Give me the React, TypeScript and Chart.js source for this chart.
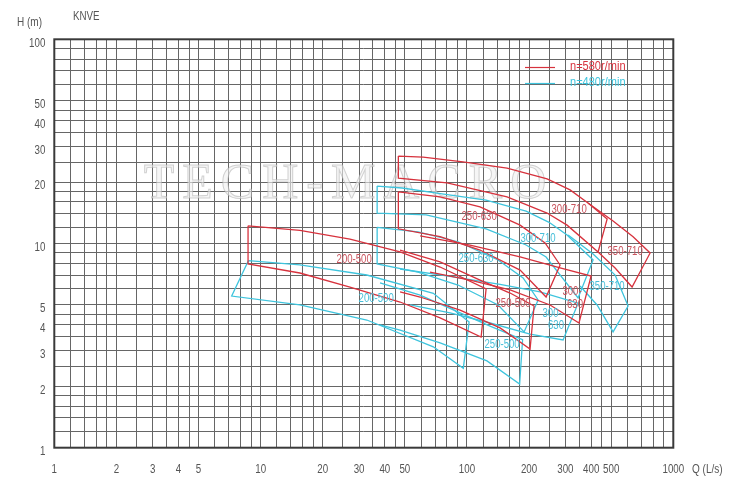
import React, { useEffect, useRef } from 'react';
import { Chart, registerables } from 'chart.js';
Chart.register(...registerables);

const xGrid = [1, 1.2, 1.4, 1.6, 1.8, 2, 2.5, 3, 3.5, 4, 4.5, 5, 6, 7, 8, 9,
  10, 12, 14, 16, 18, 20, 25, 30, 35, 40, 45, 50, 60, 70, 80, 90,
  100, 120, 140, 160, 180, 200, 250, 300, 350, 400, 450, 500, 600, 700, 800, 900, 1000];
const yGrid = [1, 1.2, 1.4, 1.6, 1.8, 2, 2.5, 3, 3.5, 4, 4.5, 5, 6, 7, 8, 9,
  10, 12, 14, 16, 18, 20, 25, 30, 35, 40, 45, 50, 60, 70, 80, 90, 100];
const xLabels = [1, 2, 3, 4, 5, 10, 20, 30, 40, 50, 100, 200, 300, 400, 500, 1000];
const yLabels = [1, 2, 3, 4, 5, 10, 20, 30, 40, 50, 100];

const RED = '#d7323d';
const CYAN = '#3ec4dd';

// outlines (Q in L/s, H in m) at n=580 r/min (red)
const r200_500_Q = [8.69, 15.5, 27.1, 47.4, 74.1, 123.8, 117.1, 74.1, 47.4, 27.1, 15.5, 8.69, 8.69];
const r200_500_H = [12.2, 11.6, 10.5, 9.09, 7.67, 5.99, 3.48, 4.32, 5.17, 6.12, 7.17, 7.94, 12.2];
const r250_500_Q = [47.4, 74.1, 115.7, 161.8, 211.5, 202.2, 144.7, 92.6, 59.3, 47.4];
const r250_500_H = [9.29, 8.12, 6.62, 5.72, 4.94, 3.04, 3.86, 4.72, 5.47, 5.79];
const r250_630_Q = [46.5, 74.1, 115.7, 180.9, 239.1, 282.7, 241.8, 180.9, 115.7, 74.1, 46.5, 46.5];
const r250_630_H = [17.9, 16.9, 15.1, 12.3, 10.06, 7.85, 5.47, 7.41, 9.29, 10.8, 11.8, 17.9];
const r300_630_Q = [59.3, 103.5, 180.9, 282.7, 399.6, 349.1, 252.8, 161.8, 103.5, 66.2];
const r300_630_H = [10.9, 9.83, 8.59, 7.59, 6.93, 4.08, 5.0, 5.92, 6.62, 7.25];
const r300_710_Q = [46.5, 61.3, 95.7, 156.4, 244.5, 316, 386, 478, 432, 305.6, 244.5, 156.4, 80.1, 46.5, 46.5];
const r300_710_H = [26.8, 26.5, 25.1, 23.4, 20.7, 18.3, 15.8, 13.2, 9.09, 12.3, 14.1, 16.9, 19.8, 20.9, 26.8];
const r350_710_Q = [386, 510.7, 638.4, 772, 631.3, 522.3, 432];
const r350_710_H = [15.8, 12.9, 10.8, 8.99, 6.12, 7.59, 9.09];

// outlines at n=480 r/min (cyan)
const c200_500_Q = [8.72, 15.5, 32.7, 68.7, 102.4, 96.0, 68.7, 32.7, 15.5, 7.24, 8.72];
const c200_500_H = [8.24, 7.85, 7.01, 5.7, 4.13, 2.45, 3.12, 4.22, 5.0, 5.53, 8.24];
const c250_500_Q = [37.9, 59.3, 92.6, 129.4, 186, 180, 125, 74.1, 47.4, 37.9];
const c250_500_H = [6.41, 5.59, 4.57, 3.94, 3.38, 2.05, 2.66, 3.26, 3.77, 3.99];
const c250_630_Q = [36.7, 57.9, 90.5, 141.5, 187.1, 221.2, 189.2, 141.5, 90.5, 57.9, 36.7, 36.7];
const c250_630_H = [12.0, 11.4, 10.2, 8.3, 6.78, 5.29, 3.69, 5.0, 6.26, 7.25, 7.94, 12.0];
const c300_630_Q = [47.4, 82.8, 144.7, 226.1, 345.6, 292.3, 202.2, 129.4, 82.8, 53.0];
const c300_630_H = [7.5, 6.9, 6.3, 5.8, 5.1, 3.37, 3.6, 4.08, 4.57, 5.0];
const c300_710_Q = [36.7, 48.5, 75.7, 123.8, 193.4, 250.0, 305.6, 408.6, 345.6, 241.8, 193.4, 123.8, 63.4, 36.7, 36.7];
const c300_710_H = [19.1, 18.7, 17.5, 16.3, 14.4, 12.7, 11.0, 8.3, 5.41, 8.59, 9.83, 11.8, 13.8, 14.1, 19.1];
const c350_710_Q = [309.1, 408.6, 522.3, 603.8, 510.7, 427.2, 353.4];
const c350_710_H = [11.0, 8.88, 7.01, 4.94, 3.69, 5.0, 6.19];

const curveNames = ['200-500', '250-500', '250-630', '300-630', '300-710', '350-710',
  '200-500', '250-500', '250-630', '300-630', '300-710', '350-710'];
const curveColors = [RED, RED, RED, RED, RED, RED, CYAN, CYAN, CYAN, CYAN, CYAN, CYAN];
const curveQ = [r200_500_Q, r250_500_Q, r250_630_Q, r300_630_Q, r300_710_Q, r350_710_Q,
  c200_500_Q, c250_500_Q, c250_630_Q, c300_630_Q, c300_710_Q, c350_710_Q];
const curveH = [r200_500_H, r250_500_H, r250_630_H, r300_630_H, r300_710_H, r350_710_H,
  c200_500_H, c250_500_H, c250_630_H, c300_630_H, c300_710_H, c350_710_H];

const labelText = ['200-500', '200-500', '250-630', '300-710', '300-710', '350-710', '250-630', '350-710', '300-', '630', '300-', '630', '250-500', '250-500'];
const labelQ = [28.4, 36.3, 114.5, 312.6, 221, 584, 110.7, 477.6, 323, 334, 258.5, 270, 167.3, 148];
const labelH = [8.3, 5.35, 13.5, 14.6, 10.6, 9.09, 8.4, 6.12, 5.79, 5.0, 4.52, 3.94, 5.05, 3.18];
const labelIsRed = [true, false, true, true, false, true, false, false, true, true, false, false, true, false];

const FONT = '"Liberation Sans", Arial, sans-serif';

function narrowText(ctx: CanvasRenderingContext2D, text: string, x: number, y: number,
  align: CanvasTextAlign, size: number, sx: number, color: string) {
  ctx.save();
  ctx.translate(x, y);
  ctx.scale(sx, 1);
  ctx.font = size + 'px ' + FONT;
  ctx.textAlign = align;
  ctx.textBaseline = 'middle';
  ctx.fillStyle = color;
  ctx.fillText(text, 0, 0);
  ctx.restore();
}

const overlay = {
  id: 'overlay',
  beforeDatasetsDraw(chart: any) {
    const ctx = chart.ctx;
    ctx.save();
    ctx.font = '50px "Liberation Serif", serif';
    (ctx as any).letterSpacing = '8px';
    ctx.textAlign = 'center';
    ctx.textBaseline = 'middle';
    ctx.fillStyle = 'rgba(240,240,240,0.6)';
    ctx.strokeStyle = 'rgba(175,175,175,0.55)';
    ctx.lineWidth = 1;
    ctx.fillText('TECH-MACRO', 349, 185);
    ctx.strokeText('TECH-MACRO', 349, 185);
    ctx.restore();
  },
  afterDraw(chart: any) {
    const ctx = chart.ctx;
    const xs = chart.scales.x;
    const ys = chart.scales.y;
    const a = chart.chartArea;
    ctx.save();
    ctx.strokeStyle = '#3a3a3a';
    ctx.lineWidth = 2;
    ctx.strokeRect(a.left, a.top, a.right - a.left, a.bottom - a.top);
    ctx.restore();

    const axisColor = '#555';
    for (const v of xLabels) {
      narrowText(ctx, String(v), xs.getPixelForValue(v), a.bottom + 22, 'center', 12.5, 0.78, axisColor);
    }
    for (const v of yLabels) {
      narrowText(ctx, String(v), a.left - 9, ys.getPixelForValue(v) + 4, 'right', 12.5, 0.78, axisColor);
    }
    narrowText(ctx, 'H (m)', 17, 23, 'left', 12.5, 0.8, axisColor);
    narrowText(ctx, 'KNVE', 73, 17, 'left', 12.5, 0.78, axisColor);
    narrowText(ctx, 'Q (L/s)', 692, 470, 'left', 12.5, 0.8, axisColor);

    ctx.save();
    ctx.lineWidth = 1.2;
    ctx.strokeStyle = RED;
    ctx.beginPath(); ctx.moveTo(525, 67.5); ctx.lineTo(555, 67.5); ctx.stroke();
    ctx.strokeStyle = CYAN;
    ctx.beginPath(); ctx.moveTo(525, 83.5); ctx.lineTo(555, 83.5); ctx.stroke();
    ctx.restore();
    narrowText(ctx, 'n=580r/min', 570, 67, 'left', 12, 0.92, RED);
    narrowText(ctx, 'n=480r/min', 570, 83, 'left', 12, 0.92, CYAN);

    for (let i = 0; i < labelText.length; i++) {
      narrowText(ctx, labelText[i], xs.getPixelForValue(labelQ[i]), ys.getPixelForValue(labelH[i]),
        'center', 12, 0.8, labelIsRed[i] ? '#c9545e' : '#48bfd9');
    }
  },
};

export default function App() {
  const ref = useRef<HTMLCanvasElement>(null);
  useEffect(() => {
    if (!ref.current) return;
    const datasets = curveQ.map((qs, i) => ({
      label: curveNames[i],
      data: qs.map((q, j) => ({ x: q, y: curveH[i][j] })),
      borderColor: curveColors[i],
      backgroundColor: curveColors[i],
      borderWidth: 1.3,
      pointRadius: 0,
      tension: 0,
      fill: false,
      showLine: true,
    }));
    const chart = new Chart(ref.current, {
      type: 'scatter',
      data: { datasets },
      plugins: [overlay],
      options: {
        animation: false,
        responsive: false,
        layout: { padding: { left: 0, right: 63.7, top: 39.3, bottom: 0 } },
        plugins: { legend: { display: false }, tooltip: { enabled: false } },
        scales: {
          x: {
            type: 'logarithmic',
            min: 1,
            max: 1000,
            afterBuildTicks: (s: any) => { s.ticks = xGrid.map((v) => ({ value: v })); },
            afterFit: (s: any) => { s.height = 49.3; },
            grid: { color: '#666', lineWidth: 1, drawTicks: false },
            border: { display: false },
            ticks: { display: false, autoSkip: false },
          },
          y: {
            type: 'logarithmic',
            min: 1,
            max: 100,
            afterBuildTicks: (s: any) => { s.ticks = yGrid.map((v) => ({ value: v })); },
            afterFit: (s: any) => { s.width = 54.3; },
            grid: { color: '#666', lineWidth: 1, drawTicks: false },
            border: { display: false },
            ticks: { display: false, autoSkip: false },
          },
        },
      },
    });
    return () => chart.destroy();
  }, []);
  return (
    <div style={{ position: 'absolute', left: 0, top: 0, width: 737, height: 497, background: '#fff' }}>
      <canvas ref={ref} width={737} height={497} style={{ display: 'block' }} />
    </div>
  );
}
